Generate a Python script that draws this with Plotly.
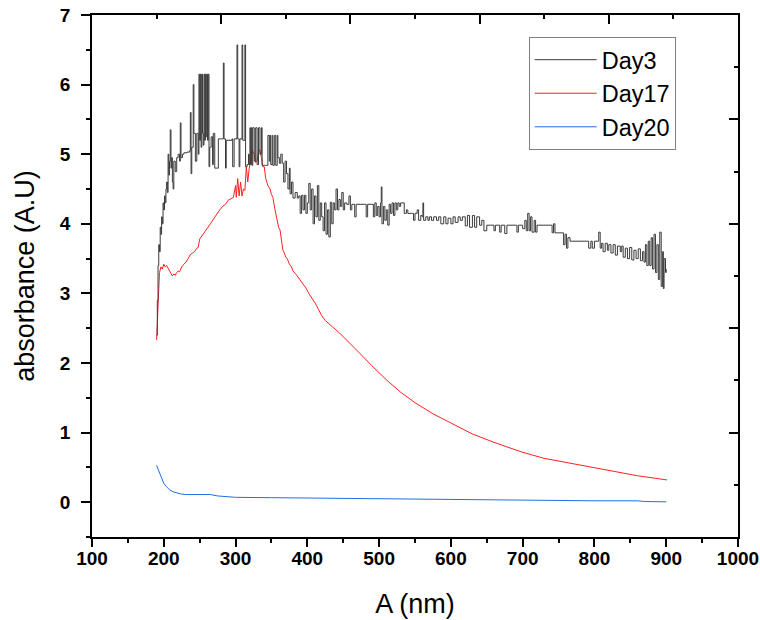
import plotly.graph_objects as go

# ---- Data ----
day3_x = [190, 191, 192, 193, 194, 195, 196, 197, 198, 199, 200, 201, 202, 203, 204, 205, 206, 207, 208, 209,
          210, 211, 212, 213, 214, 216, 218, 220, 222, 223, 224, 226, 228, 232, 236, 237, 238, 239, 241, 242,
          244, 246, 248, 249, 250, 251, 252, 253, 254, 255, 256, 257, 258, 259, 260, 261, 262, 263, 264, 266,
          268, 269, 271, 274, 276, 280, 283, 284, 286, 287, 295, 296, 298, 302, 303, 305, 306, 309, 310, 313,
          314, 316, 318, 319, 320, 321, 322, 323, 324, 326, 328, 330, 332, 334, 336, 337, 338, 340, 342, 345,
          347, 348, 349, 351, 352, 354, 356, 358, 359, 361, 363, 365, 367, 369, 371, 373, 375, 376, 378, 380,
          383, 386, 388, 390, 392, 394, 396, 398, 400, 402, 404, 406, 408, 410, 412, 414, 416, 418, 420, 422,
          424, 426, 428, 430, 432, 434, 436, 438, 440, 442, 444, 446, 448, 450, 452, 455, 458, 460, 462, 466,
          468, 480, 482, 484, 490, 492, 494, 496, 498, 500, 502, 503, 504, 506, 508, 510, 512, 514, 516, 518,
          520, 522, 524, 526, 528, 530, 535, 538, 540, 545, 548, 550, 553, 555, 558, 560, 561, 562, 565, 568,
          570, 573, 576, 580, 583, 586, 590, 593, 596, 600, 603, 606, 610, 613, 616, 620, 623, 626, 630, 633,
          636, 640, 643, 646, 650, 655, 660, 662, 668, 670, 675, 678, 690, 692, 694, 700, 703, 705, 707, 709,
          711, 713, 716, 718, 720, 724, 740, 741, 743, 745, 755, 757, 759, 761, 763, 766, 770, 790, 792, 795,
          797, 800, 805, 806, 808, 810, 812, 815, 818, 820, 823, 826, 829, 832, 836, 838, 840, 843, 846, 849,
          852, 855, 858, 861, 864, 867, 869, 871, 873, 875, 877, 879, 881, 883, 885, 887, 889, 891, 893, 895,
          896, 897, 899, 900]
day3_y = [2.40, 2.90, 3.40, 3.70, 3.60, 3.95, 3.85, 4.10, 4.00, 4.30, 4.20, 4.40, 4.30, 4.50, 4.60, 4.45, 5.00, 4.70, 4.90, 5.35,
          4.80, 4.95, 4.60, 4.50, 4.90, 4.75, 4.95, 5.00, 4.90, 5.45, 4.95, 5.00, 5.02, 5.03, 5.05, 5.60, 4.72, 5.10, 6.00, 5.30,
          4.90, 5.30, 5.00, 6.15, 5.20, 6.15, 5.10, 6.15, 5.30, 5.13, 6.15, 5.20, 6.15, 5.25, 6.15, 5.20, 6.15, 4.82, 5.10, 5.25,
          4.85, 5.30, 4.80, 4.80, 5.22, 5.22, 6.31, 5.22, 4.80, 5.20, 5.22, 4.82, 5.22, 6.57, 5.22, 4.82, 5.22, 6.57, 5.20, 6.57,
          4.82, 4.85, 5.00, 4.85, 5.38, 4.85, 5.38, 4.84, 5.38, 4.90, 5.38, 4.85, 5.38, 5.00, 5.38, 4.84, 4.84, 4.84, 4.84, 5.27,
          4.90, 5.27, 4.85, 5.27, 4.84, 5.27, 4.84, 5.27, 4.95, 4.87, 5.00, 4.87, 4.60, 4.90, 4.72, 4.50, 4.80, 4.43, 4.60, 4.37,
          4.45, 4.37, 4.40, 4.15, 4.41, 4.20, 4.41, 4.15, 4.30, 4.58, 4.20, 4.50, 4.00, 4.40, 4.10, 4.55, 4.05, 4.30, 4.10, 3.90,
          4.30, 3.85, 4.20, 3.81, 4.31, 4.00, 4.30, 4.20, 4.50, 4.20, 4.35, 4.25, 4.45, 4.20, 4.30, 4.28, 4.40, 4.20, 4.28, 4.10,
          4.28, 4.28, 4.10, 4.28, 4.28, 4.10, 4.30, 4.12, 4.25, 4.10, 4.30, 4.53, 4.00, 4.25, 4.05, 4.20, 3.98, 4.28, 4.15, 4.30,
          4.12, 4.30, 4.20, 4.30, 4.25, 4.30, 4.15, 4.20, 4.15, 4.15, 4.05, 4.15, 4.20, 4.05, 4.12, 4.10, 4.30, 4.05, 4.10, 4.05,
          4.10, 4.05, 4.10, 4.05, 4.10, 4.00, 4.10, 4.00, 4.08, 4.00, 4.10, 4.02, 4.10, 4.05, 4.10, 3.97, 4.12, 3.95, 4.12, 3.95,
          4.10, 3.98, 4.05, 3.90, 3.98, 3.98, 3.90, 3.98, 3.88, 3.98, 3.86, 3.98, 3.98, 3.88, 3.98, 3.93, 4.05, 3.90, 4.15, 3.90,
          4.10, 3.88, 4.05, 3.88, 3.98, 3.98, 3.98, 3.87, 4.00, 3.87, 3.87, 3.70, 3.85, 3.65, 3.80, 3.75, 3.75, 3.75, 3.65, 3.75,
          3.65, 3.75, 3.75, 3.88, 3.65, 3.72, 3.60, 3.72, 3.62, 3.70, 3.58, 3.70, 3.55, 3.68, 3.60, 3.68, 3.52, 3.65, 3.50, 3.66,
          3.48, 3.62, 3.50, 3.64, 3.47, 3.60, 3.45, 3.70, 3.40, 3.75, 3.40, 3.80, 3.35, 3.85, 3.30, 3.70, 3.20, 3.88, 3.10, 3.60,
          3.07, 3.50, 3.30, 3.35]

day17_x = [190, 191, 192, 193, 194, 196, 198, 200, 202, 204, 206, 208, 210, 212, 214, 216, 218, 220, 222, 225,
           228, 231, 234, 237, 240, 243, 246, 248, 250, 255, 260, 265, 270, 274, 278, 282, 286, 290, 294, 297,
           300, 301, 303, 305, 307, 309, 311, 313, 315, 317, 319, 321, 323, 326, 328, 330, 332, 334, 336, 338,
           340, 342, 345, 348, 350, 352, 355, 358, 360, 362, 364, 366, 368, 370, 372, 375, 378, 380, 383, 386,
           390, 394, 398, 402, 406, 411, 415, 420, 425, 430, 435, 445, 460, 473, 490, 511, 530, 550, 575, 604,
           630, 660, 699, 730, 760, 801, 830, 860, 901]
day17_y = [2.33, 2.60, 2.90, 3.10, 3.30, 3.38, 3.35, 3.42, 3.38, 3.40, 3.36, 3.32, 3.28, 3.25, 3.28, 3.26, 3.30, 3.32, 3.31, 3.38,
           3.42, 3.45, 3.50, 3.56, 3.58, 3.60, 3.65, 3.66, 3.78, 3.85, 3.92, 4.00, 4.08, 4.15, 4.20, 4.25, 4.28, 4.34, 4.36, 4.38,
           4.55, 4.38, 4.65, 4.40, 4.60, 4.40, 4.50, 4.48, 4.82, 4.60, 4.80, 4.90, 5.06, 5.00, 4.88, 4.90, 5.06, 5.06, 4.95, 4.82,
           4.82, 4.65, 4.55, 4.50, 4.42, 4.38, 4.20, 4.05, 3.95, 3.91, 3.75, 3.62, 3.58, 3.52, 3.50, 3.42, 3.38, 3.32, 3.29, 3.25,
           3.20, 3.15, 3.08, 3.00, 2.94, 2.86, 2.78, 2.68, 2.61, 2.57, 2.52, 2.43, 2.28, 2.14, 1.96, 1.75, 1.58, 1.43, 1.27, 1.12,
           0.98, 0.86, 0.72, 0.63, 0.57, 0.49, 0.43, 0.38, 0.32]

day20_x = [190, 193, 196, 200, 204, 208, 213, 218, 223, 230, 236, 245, 257, 265, 275, 290, 300, 350, 400, 420,
           500, 510, 600, 664, 670, 800, 860, 870, 900]
day20_y = [0.53, 0.45, 0.36, 0.27, 0.22, 0.18, 0.15, 0.13, 0.12, 0.11, 0.11, 0.12, 0.12, 0.11, 0.09, 0.075, 0.07, 0.065, 0.06, 0.05,
           0.045, 0.04, 0.035, 0.03, 0.025, 0.02, 0.02, 0.01, 0.005]

x_ticks = [100, 200, 300, 400, 500, 600, 700, 800, 900, 1000]
y_ticks = [0, 1, 2, 3, 4, 5, 6, 7]

FONT = "Arial, Liberation Sans, sans-serif"

fig = go.Figure()
# Day3 uses the (identical-range) top x axis, Day17 the (identical-range) right y axis,
# so that all four frame axes are drawn with their own tick styles.
fig.add_trace(go.Scatter(x=day3_x, y=day3_y, mode="lines", name="Day3", xaxis="x2", yaxis="y",
                         line=dict(color="#3a3a3a", width=1, shape="hv")))
fig.add_trace(go.Scatter(x=day17_x, y=day17_y, mode="lines", name="Day17", xaxis="x", yaxis="y2",
                         line=dict(color="#ff2020", width=1)))
fig.add_trace(go.Scatter(x=day20_x, y=day20_y, mode="lines", name="Day20", xaxis="x", yaxis="y",
                         line=dict(color="#1f6fe0", width=1)))

fig.update_layout(
    width=760, height=620,
    margin=dict(l=92, r=22, t=15, b=83),
    paper_bgcolor="white", plot_bgcolor="white",
    font=dict(family=FONT, color="black"),
    showlegend=True,
    legend=dict(x=0.676, y=0.958, xanchor="left", yanchor="top",
                bordercolor="#808080", borderwidth=1, bgcolor="white",
                font=dict(family=FONT, size=23.5, color="black"),
                tracegroupgap=0, itemwidth=62, traceorder="normal"),
    xaxis=dict(range=[100, 1000], tickvals=x_ticks, ticks="outside", ticklen=8, tickwidth=1.5,
               tickcolor="black", showline=True, linecolor="black", linewidth=1.5,
               showgrid=False, zeroline=False, automargin=False,
               ticklabeloverflow="allow", ticklabelstandoff=-5,
               minor=dict(dtick=50, tick0=100, ticks="outside", ticklen=4, tickwidth=1.5, tickcolor="black", showgrid=False),
               tickfont=dict(family=FONT, size=19, weight="bold"),
               title=dict(text="A (nm)", font=dict(family=FONT, size=27), standoff=27)),
    xaxis2=dict(range=[100, 1000], overlaying="x", side="top", anchor="y",
                tick0=100, dtick=180, ticks="inside", ticklen=9, tickwidth=1.5, tickcolor="black",
                showline=True, linecolor="black", linewidth=1.5, showticklabels=False,
                showgrid=False, zeroline=False, automargin=False,
                minor=dict(dtick=90, tick0=100, ticks="inside", ticklen=4, tickwidth=1.5, tickcolor="black", showgrid=False)),
    yaxis=dict(range=[-0.5, 7], tickvals=y_ticks, ticks="outside", ticklen=9, tickwidth=1.5,
               tickcolor="black", showline=True, linecolor="black", linewidth=1.5,
               showgrid=False, zeroline=False, automargin=False, ticklabelstandoff=7,
               ticklabeloverflow="allow",
               minor=dict(dtick=0.5, tick0=0, ticks="outside", ticklen=4, tickwidth=1.5, tickcolor="black", showgrid=False),
               tickfont=dict(family=FONT, size=19, weight="bold"),
               title=dict(text="absorbance (A.U)", font=dict(family=FONT, size=27), standoff=17)),
    yaxis2=dict(range=[-0.5, 7], overlaying="y", side="right", anchor="x",
                tick0=-0.5, dtick=1.5, ticks="inside", ticklen=9, tickwidth=1.5, tickcolor="black",
                showline=True, linecolor="black", linewidth=1.5, showticklabels=False,
                showgrid=False, zeroline=False, automargin=False,
                minor=dict(dtick=0.75, tick0=-0.5, ticks="inside", ticklen=4, tickwidth=1.5, tickcolor="black", showgrid=False)),
)

fig.write_html("out.html", config={"displayModeBar": False},
               post_script="document.body.style.margin='0';")
